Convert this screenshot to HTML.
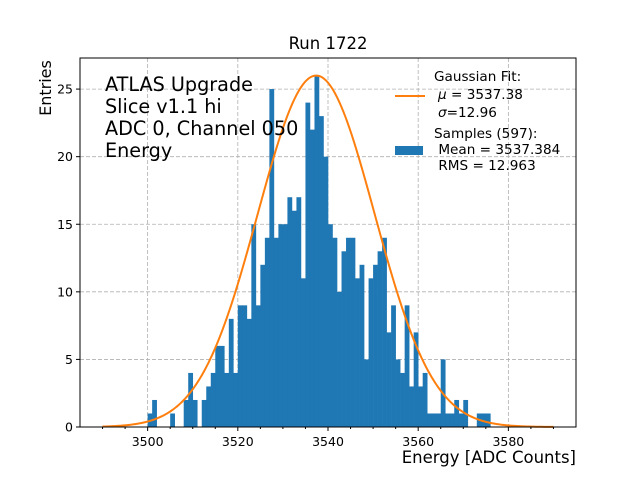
<!DOCTYPE html>
<html><head><meta charset="utf-8"><style>
body{margin:0;background:#fff}
svg text{font-family:"DejaVu Sans","Liberation Sans",sans-serif;fill:#000}
</style></head><body>
<svg id="c" width="640" height="480" xmlns="http://www.w3.org/2000/svg">
<rect width="640" height="480" fill="#fff"/>
<g id="grid"></g>
<g id="bars"></g>
<path id="fit" fill="none" stroke="#ff7f0e" stroke-width="2"/>
<rect x="80" y="58" width="496" height="369" fill="none" stroke="#000" stroke-width="1"/>
<g id="ticks"></g>
<text x="328" y="49" text-anchor="middle" font-size="16.5">Run 1722</text>
<text transform="translate(51,88) rotate(-90)" text-anchor="middle" font-size="16">Entries</text>
<text x="576" y="463" text-anchor="end" font-size="16.5">Energy [ADC Counts]</text>
<g font-size="19.2">
<text x="105" y="91">ATLAS Upgrade</text>
<text x="105" y="113">Slice v1.1 hi</text>
<text x="105" y="135">ADC 0, Channel 050</text>
<text x="105" y="157">Energy</text>
</g>
<g font-size="13.6">
<line x1="395" y1="96" x2="425" y2="96" stroke="#ff7f0e" stroke-width="2"/>
<text x="434" y="81">Gaussian Fit:</text>
<text x="438" y="99"><tspan font-style="italic">μ</tspan> = 3537.38</text>
<text x="438" y="117"><tspan font-style="italic">σ</tspan>=12.96</text>
<rect x="395" y="146" width="28" height="9" fill="#1f77b4"/>
<text x="434" y="138">Samples (597):</text>
<text x="434" y="154" xml:space="preserve"> Mean = 3537.384</text>
<text x="434" y="170" xml:space="preserve"> RMS = 12.963</text>
</g>
</svg>
<script>
const binStart = 3500;
const counts = [1,2,0,0,0,1,0,0,2,4,2,0,2,3,4,6,6,4,8,4,
9,9,8,15,9,12,14,25,14,15,15,17,16,17,11,24,22,26,23,20,
15,14,10,13,14,14,11,12,5,11,12,13,14,7,9,5,4,9,3,7,
3,4,1,1,1,5,1,1,2,1,2,0,0,1,1,1];
const xTicks = [3500,3520,3540,3560,3580];
const yTicks = [0,5,10,15,20,25];
const fitMu = 3537.38, fitSigma = 12.96, fitAmp = 26, fitMin = 3490, fitMax = 3590;
const X0=80,X1=576,Y0=427,Y1=58, xmin=3485, xmax=3595, ymin=0, ymax=27.3;
const sx=v=>X0+(v-xmin)/(xmax-xmin)*(X1-X0);
const sy=v=>Y0-(v-ymin)/(ymax-ymin)*(Y0-Y1);
const NS="http://www.w3.org/2000/svg";
function mk(t,a,p){const e=document.createElementNS(NS,t);for(const k in a)e.setAttribute(k,a[k]);p.appendChild(e);return e;}
const grid=document.getElementById('grid'),bars=document.getElementById('bars'),ticks=document.getElementById('ticks');
xTicks.forEach(v=>{
  const g=mk('line',{x1:sx(v),x2:sx(v),y1:Y1,y2:Y0,stroke:'#b0b0b0','stroke-dasharray':'4,2','stroke-width':0.8},grid);
  
  
  const t=mk('line',{x1:sx(v),x2:sx(v),y1:Y0,y2:Y0+4,stroke:'#000'},ticks);
  
  
  const l=mk('text',{x:sx(v),y:Y0+19,'text-anchor':'middle','font-size':12.5},ticks);l.textContent=v;
  
  
});
for(let v=3490;v<=3590;v+=5){if(v%20===0)continue;
  const t=mk('line',{x1:sx(v),x2:sx(v),y1:Y0,y2:Y0+2,stroke:'#000'},ticks);
  
  }
yTicks.forEach(v=>{
  if(v>0){const g=mk('line',{x1:X0,x2:X1,y1:sy(v),y2:sy(v),stroke:'#b0b0b0','stroke-dasharray':'4,2','stroke-width':0.8},grid);
  
  }
  const t=mk('line',{x1:X0-4,x2:X0,y1:sy(v),y2:sy(v),stroke:'#000'},ticks);
  
  
  const l=mk('text',{x:X0-7,y:sy(v)+4.5,'text-anchor':'end','font-size':12.5},ticks);l.textContent=v;
  
  
});
counts.forEach((c,i)=>{if(!c)return;const a=binStart+i;
  const r=mk('rect',{x:sx(a),y:sy(c),width:sx(a+1)-sx(a)+0.3,height:sy(0)-sy(c),fill:'#1f77b4'},bars);
  
  
});
let d='';for(let i=0;i<=400;i++){const v=fitMin+(fitMax-fitMin)*i/400;
  const y=fitAmp*Math.exp(-0.5*((v-fitMu)/fitSigma)**2);d+=(i?'L':'M')+sx(v).toFixed(2)+','+sy(y).toFixed(2);}
document.getElementById('fit').setAttribute('d',d);
</script>
</body></html>
